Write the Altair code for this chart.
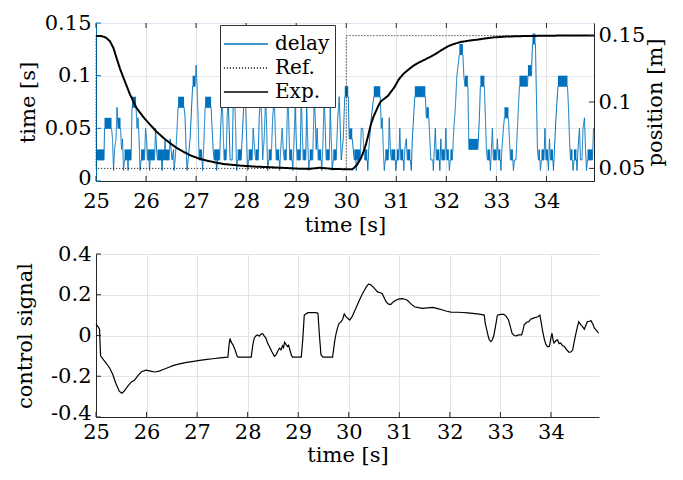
import altair as alt
import pandas as pd

FONT = "DejaVu Serif"
BLUE = "#0072BD"

# ---------------- data ----------------
x_ticks = [25, 26, 27, 28, 29, 30, 31, 32, 33, 34]
left_ticks = [0, 0.05, 0.1, 0.15]
right_ticks = [0.05, 0.1, 0.15]
ctrl_ticks = [-0.4, -0.2, 0, 0.2, 0.4]
series_names = ["delay", "Ref.", "Exp."]

# delay signal knots (time [s], delay [s])
delay_pts = [
    (25.00, 0.02), (25.16, 0.02), (25.17, 0.05), (25.31, 0.05), (25.33, 0.04), (25.35, 0.01),
    (25.37, 0.03), (25.40, 0.04), (25.42, 0.07), (25.44, 0.05), (25.49, 0.05), (25.51, 0.03),
    (25.53, 0.04), (25.55, 0.01), (25.57, 0.02), (25.63, 0.02), (25.64, 0.01), (25.65, 0.02),
    (25.70, 0.02), (25.72, 0.07), (25.80, 0.07), (25.82, 0.05), (25.84, 0.06), (25.86, 0.04),
    (25.88, 0.01), (25.90, 0.02), (25.97, 0.02), (25.99, 0.05), (26.01, 0.04), (26.03, 0.02),
    (26.06, 0.02), (26.07, 0.01), (26.08, 0.02), (26.17, 0.02), (26.19, 0.05), (26.21, 0.03),
    (26.23, 0.02), (26.31, 0.02), (26.32, 0.01), (26.33, 0.02), (26.37, 0.02), (26.38, 0.04),
    (26.39, 0.02), (26.46, 0.02), (26.48, 0.04), (26.50, 0.03), (26.52, 0.02), (26.55, 0.03),
    (26.56, 0.01), (26.58, 0.02), (26.61, 0.04), (26.64, 0.07), (26.76, 0.07), (26.78, 0.06),
    (26.80, 0.03), (26.82, 0.01), (26.84, 0.02), (26.88, 0.04), (26.93, 0.09), (26.98, 0.09),
    (27.00, 0.11), (27.02, 0.09), (27.04, 0.06), (27.06, 0.02), (27.12, 0.02), (27.13, 0.01),
    (27.15, 0.03), (27.18, 0.07), (27.30, 0.07), (27.32, 0.05), (27.34, 0.03), (27.36, 0.02),
    (27.40, 0.02), (27.41, 0.01), (27.43, 0.02), (27.47, 0.02), (27.49, 0.05), (27.52, 0.08),
    (27.54, 0.05), (27.56, 0.02), (27.60, 0.02), (27.62, 0.06), (27.64, 0.08), (27.66, 0.05),
    (27.68, 0.02), (27.72, 0.02), (27.74, 0.07), (27.77, 0.08), (27.79, 0.05), (27.81, 0.01),
    (27.83, 0.02), (27.90, 0.02), (27.93, 0.05), (27.96, 0.08), (27.99, 0.07), (28.01, 0.04),
    (28.03, 0.01), (28.05, 0.02), (28.12, 0.02), (28.14, 0.05), (28.17, 0.03), (28.19, 0.02),
    (28.24, 0.02), (28.26, 0.06), (28.29, 0.08), (28.31, 0.06), (28.33, 0.02), (28.36, 0.04),
    (28.39, 0.08), (28.41, 0.05), (28.43, 0.01), (28.45, 0.02), (28.50, 0.02), (28.53, 0.06),
    (28.56, 0.08), (28.58, 0.05), (28.60, 0.02), (28.66, 0.02), (28.67, 0.01), (28.69, 0.03),
    (28.72, 0.05), (28.74, 0.03), (28.76, 0.02), (28.80, 0.02), (28.83, 0.08), (28.85, 0.06),
    (28.87, 0.02), (28.92, 0.02), (28.93, 0.01), (28.95, 0.03), (28.98, 0.07), (29.00, 0.04),
    (29.02, 0.02), (29.08, 0.02), (29.10, 0.08), (29.12, 0.05), (29.14, 0.02), (29.19, 0.02),
    (29.21, 0.07), (29.23, 0.04), (29.25, 0.01), (29.27, 0.02), (29.33, 0.02), (29.36, 0.08),
    (29.38, 0.06), (29.40, 0.03), (29.42, 0.05), (29.44, 0.02), (29.50, 0.02), (29.51, 0.01),
    (29.53, 0.03), (29.56, 0.08), (29.58, 0.05), (29.60, 0.02), (29.66, 0.02), (29.68, 0.07),
    (29.70, 0.04), (29.72, 0.01), (29.74, 0.02), (29.80, 0.02), (29.83, 0.06), (29.86, 0.08),
    (29.88, 0.05), (29.90, 0.02), (29.94, 0.04), (29.97, 0.08), (30.04, 0.08), (30.06, 0.04),
    (30.12, 0.04), (30.14, 0.03), (30.16, 0.02), (30.19, 0.02), (30.20, 0.01), (30.22, 0.02),
    (30.28, 0.02), (30.30, 0.05), (30.33, 0.05), (30.35, 0.03), (30.37, 0.02), (30.42, 0.02),
    (30.43, 0.01), (30.45, 0.03), (30.50, 0.06), (30.55, 0.08), (30.68, 0.08), (30.70, 0.05),
    (30.72, 0.06), (30.74, 0.03), (30.76, 0.01), (30.78, 0.02), (30.84, 0.02), (30.86, 0.06),
    (30.88, 0.03), (30.90, 0.02), (30.98, 0.02), (30.99, 0.01), (31.01, 0.02), (31.05, 0.02),
    (31.07, 0.05), (31.09, 0.02), (31.14, 0.02), (31.15, 0.01), (31.17, 0.03), (31.20, 0.04),
    (31.22, 0.02), (31.28, 0.02), (31.30, 0.01), (31.32, 0.04), (31.37, 0.08), (31.58, 0.08),
    (31.60, 0.06), (31.65, 0.06), (31.67, 0.04), (31.69, 0.02), (31.73, 0.02), (31.74, 0.01),
    (31.76, 0.03), (31.78, 0.05), (31.80, 0.02), (31.86, 0.02), (31.87, 0.01), (31.89, 0.04),
    (31.91, 0.02), (31.97, 0.02), (31.99, 0.05), (32.01, 0.02), (32.05, 0.02), (32.06, 0.01),
    (32.08, 0.02), (32.12, 0.02), (32.15, 0.05), (32.18, 0.07), (32.21, 0.10), (32.26, 0.12),
    (32.33, 0.12), (32.35, 0.10), (32.37, 0.09), (32.43, 0.09), (32.45, 0.03), (32.63, 0.03),
    (32.66, 0.06), (32.68, 0.09), (32.76, 0.09), (32.78, 0.06), (32.80, 0.03), (32.82, 0.02),
    (32.87, 0.02), (32.88, 0.01), (32.90, 0.03), (32.92, 0.05), (32.94, 0.02), (33.00, 0.02),
    (33.02, 0.04), (33.04, 0.02), (33.08, 0.02), (33.09, 0.01), (33.11, 0.03), (33.14, 0.05),
    (33.16, 0.06), (33.24, 0.06), (33.26, 0.04), (33.28, 0.02), (33.33, 0.02), (33.34, 0.01),
    (33.36, 0.02), (33.39, 0.02), (33.43, 0.06), (33.46, 0.09), (33.62, 0.09), (33.63, 0.10),
    (33.70, 0.10), (33.72, 0.13), (33.78, 0.13), (33.80, 0.08), (33.82, 0.03), (33.84, 0.02),
    (33.87, 0.02), (33.88, 0.01), (33.90, 0.02), (33.95, 0.02), (33.97, 0.05), (33.99, 0.02),
    (34.03, 0.02), (34.04, 0.01), (34.06, 0.04), (34.08, 0.02), (34.13, 0.02), (34.14, 0.01),
    (34.16, 0.03), (34.19, 0.06), (34.23, 0.09), (34.42, 0.09), (34.44, 0.07), (34.46, 0.04),
    (34.48, 0.02), (34.52, 0.02), (34.53, 0.01), (34.55, 0.02), (34.60, 0.02), (34.61, 0.01),
    (34.63, 0.03), (34.66, 0.05), (34.68, 0.02), (34.71, 0.02), (34.73, 0.05), (34.76, 0.06),
    (34.78, 0.03), (34.80, 0.01), (34.82, 0.02), (34.92, 0.02), (34.94, 0.05), (34.95, 0.05),
]

# intervals where the delay toggles quickly between two adjacent levels (start, end, lower level)
delay_bands = [
    (25.00, 25.16, 0.02), (25.17, 25.31, 0.05), (25.44, 25.49, 0.05), (25.57, 25.70, 0.02),
    (25.72, 25.80, 0.07), (25.90, 25.97, 0.02), (26.03, 26.17, 0.02), (26.23, 26.46, 0.02),
    (26.64, 26.76, 0.07), (26.93, 26.98, 0.09), (27.06, 27.12, 0.02), (27.18, 27.30, 0.07),
    (27.36, 27.47, 0.02), (27.56, 27.60, 0.02), (27.83, 27.90, 0.02), (28.05, 28.12, 0.02),
    (28.19, 28.24, 0.02), (28.45, 28.50, 0.02), (28.60, 28.66, 0.02), (28.76, 28.80, 0.02),
    (28.87, 28.92, 0.02), (29.02, 29.08, 0.02), (29.14, 29.19, 0.02), (29.27, 29.33, 0.02),
    (29.44, 29.50, 0.02), (29.60, 29.66, 0.02), (29.74, 29.80, 0.02), (29.97, 30.04, 0.08),
    (30.06, 30.12, 0.04), (30.16, 30.28, 0.02), (30.37, 30.42, 0.02), (30.55, 30.68, 0.08),
    (30.78, 30.84, 0.02), (30.90, 30.98, 0.02), (31.01, 31.05, 0.02), (31.09, 31.14, 0.02),
    (31.22, 31.28, 0.02), (31.37, 31.58, 0.08), (31.60, 31.65, 0.06), (31.80, 31.86, 0.02),
    (31.91, 31.97, 0.02), (32.01, 32.05, 0.02), (32.08, 32.12, 0.02), (32.26, 32.33, 0.12),
    (32.37, 32.43, 0.09), (32.45, 32.63, 0.03), (32.68, 32.76, 0.09), (32.82, 32.87, 0.02),
    (32.94, 33.00, 0.02), (33.04, 33.08, 0.02), (33.16, 33.24, 0.06), (33.28, 33.33, 0.02),
    (33.46, 33.62, 0.09), (33.63, 33.70, 0.10), (33.72, 33.78, 0.13), (33.84, 33.87, 0.02),
    (33.90, 33.95, 0.02), (33.99, 34.03, 0.02), (34.08, 34.13, 0.02), (34.23, 34.42, 0.09),
    (34.48, 34.52, 0.02), (34.55, 34.60, 0.02), (34.82, 34.92, 0.02),
]

# reference position [m]
ref_t = [25.0, 25.0, 30.0, 30.0, 34.95]
ref_pos = [0.15, 0.05, 0.05, 0.15, 0.15]

# experimental position [m]
exp_pts = [
    (25.0, 0.1497), (25.1, 0.1497), (25.2, 0.1485), (25.28, 0.1457), (25.35, 0.1405),
    (25.41, 0.1332), (25.48, 0.125), (25.55, 0.1181), (25.68, 0.1056), (25.81, 0.0955),
    (25.95, 0.0885), (26.08, 0.083), (26.2, 0.078), (26.35, 0.0729), (26.48, 0.069),
    (26.61, 0.0654), (26.75, 0.0625), (26.88, 0.0599), (27.05, 0.0575), (27.21, 0.0559),
    (27.38, 0.0545), (27.55, 0.0533), (27.88, 0.0521), (28.2, 0.0513), (28.41, 0.051),
    (28.8, 0.0503), (29.08, 0.0497), (29.3, 0.0498), (29.48, 0.0505), (29.75, 0.0495),
    (30.0, 0.0494), (30.12, 0.0494), (30.16, 0.0505), (30.22, 0.053), (30.29, 0.0575),
    (30.34, 0.062), (30.39, 0.0677), (30.44, 0.075), (30.49, 0.0828), (30.54, 0.0885),
    (30.59, 0.0928), (30.64, 0.097), (30.69, 0.1004), (30.76, 0.1025), (30.83, 0.1045),
    (30.9, 0.108), (30.96, 0.111), (31.05, 0.117), (31.15, 0.1215), (31.23, 0.124),
    (31.33, 0.127), (31.43, 0.1293), (31.6, 0.1325), (31.76, 0.1356), (31.9, 0.139),
    (32.03, 0.1419), (32.15, 0.1437), (32.29, 0.1452), (32.45, 0.1462), (32.63, 0.147),
    (32.8, 0.148), (32.96, 0.1487), (33.2, 0.1493), (33.6, 0.1497), (34.2, 0.15), (34.95, 0.15),
]

# control signal
ctrl_pts = [
    (25.0, 0.055), (25.05, 0.04), (25.07, 0.03), (25.09, -0.1), (25.15, -0.12), (25.2, -0.135),
    (25.27, -0.16), (25.33, -0.19), (25.39, -0.233), (25.46, -0.273), (25.51, -0.283),
    (25.55, -0.275), (25.63, -0.249), (25.7, -0.228), (25.76, -0.22), (25.83, -0.197),
    (25.9, -0.178), (25.99, -0.17), (26.08, -0.175), (26.16, -0.179), (26.25, -0.175),
    (26.33, -0.167), (26.43, -0.157), (26.52, -0.148), (26.65, -0.139), (26.79, -0.132),
    (26.9, -0.128), (27.05, -0.122), (27.2, -0.117), (27.31, -0.114), (27.45, -0.11),
    (27.61, -0.106), (27.63, -0.05), (27.65, -0.015), (27.68, -0.035), (27.71, -0.046),
    (27.75, -0.07), (27.79, -0.1), (27.81, -0.106), (28.07, -0.106), (28.1, -0.05),
    (28.13, -0.013), (28.17, 0.0), (28.2, 0.003), (28.23, -0.003), (28.27, 0.008), (28.3, 0.008),
    (28.33, -0.003), (28.36, -0.013), (28.4, -0.04), (28.43, -0.054), (28.48, -0.08),
    (28.53, -0.102), (28.56, -0.095), (28.6, -0.075), (28.63, -0.062), (28.66, -0.07),
    (28.69, -0.05), (28.71, -0.06), (28.73, -0.033), (28.76, -0.045), (28.79, -0.054),
    (28.81, -0.048), (28.84, -0.075), (28.87, -0.1), (28.89, -0.106), (29.06, -0.106),
    (29.09, -0.02), (29.12, 0.1), (29.19, 0.112), (29.35, 0.112), (29.39, 0.109), (29.42, 0.0),
    (29.45, -0.094), (29.49, -0.106), (29.68, -0.106), (29.72, -0.03), (29.75, 0.011),
    (29.78, 0.04), (29.81, 0.06), (29.85, 0.068), (29.88, 0.08), (29.91, 0.106), (29.95, 0.09),
    (29.98, 0.085), (30.02, 0.076), (30.06, 0.09), (30.11, 0.117), (30.16, 0.145), (30.21, 0.173),
    (30.26, 0.2), (30.31, 0.222), (30.35, 0.24), (30.39, 0.252), (30.43, 0.25), (30.47, 0.241),
    (30.52, 0.228), (30.57, 0.214), (30.62, 0.21), (30.66, 0.206), (30.7, 0.185), (30.74, 0.165),
    (30.78, 0.155), (30.83, 0.152), (30.88, 0.165), (30.93, 0.173), (31.0, 0.18), (31.06, 0.181),
    (31.11, 0.178), (31.16, 0.173), (31.23, 0.155), (31.3, 0.141), (31.38, 0.137), (31.46, 0.133),
    (31.56, 0.136), (31.66, 0.138), (31.76, 0.132), (31.86, 0.125), (31.94, 0.119), (32.02, 0.115),
    (32.15, 0.114), (32.25, 0.113), (32.35, 0.111), (32.45, 0.109), (32.58, 0.105), (32.68, 0.1),
    (32.7, 0.06), (32.73, 0.028), (32.76, -0.005), (32.78, -0.021), (32.81, -0.03), (32.84, -0.021),
    (32.87, 0.0), (32.89, 0.028), (32.92, 0.07), (32.94, 0.1), (33.0, 0.104), (33.07, 0.104),
    (33.11, 0.095), (33.16, 0.076), (33.2, 0.04), (33.23, 0.011), (33.27, 0.0), (33.31, -0.002),
    (33.36, 0.003), (33.42, 0.003), (33.45, 0.03), (33.47, 0.052), (33.52, 0.065), (33.56, 0.068),
    (33.6, 0.08), (33.64, 0.084), (33.68, 0.088), (33.72, 0.09), (33.74, 0.092), (33.78, 0.1),
    (33.81, 0.06), (33.83, 0.028), (33.87, -0.02), (33.9, -0.045), (33.94, -0.055), (33.97, -0.053),
    (34.0, -0.01), (34.02, 0.011), (34.04, -0.02), (34.06, -0.037), (34.1, -0.025), (34.13, -0.021),
    (34.16, -0.04), (34.19, -0.037), (34.23, -0.05), (34.26, -0.053), (34.31, -0.07), (34.36, -0.083),
    (34.4, -0.08), (34.43, -0.07), (34.46, -0.03), (34.48, -0.005), (34.52, 0.04), (34.55, 0.068),
    (34.59, 0.052), (34.62, 0.045), (34.66, 0.031), (34.69, 0.05), (34.72, 0.068), (34.76, 0.07),
    (34.79, 0.073), (34.83, 0.055), (34.86, 0.036), (34.9, 0.025), (34.94, 0.011),
]

# ---------------- tables ----------------
delay_df = pd.DataFrame(delay_pts, columns=["t", "v"])
delay_df["series"] = "delay"
delay_df["idx"] = range(len(delay_df))

band_df = pd.DataFrame(delay_bands, columns=["t0", "t1", "lo"])
band_df["hi"] = band_df["lo"] + 0.01

ref_df = pd.DataFrame({"t": ref_t, "pos": ref_pos, "series": "Ref."})
exp_df = pd.DataFrame(exp_pts, columns=["t", "pos"])
exp_df["series"] = "Exp."
pos_df = pd.concat([ref_df, exp_df], ignore_index=True)
pos_df["idx"] = range(len(pos_df))

ctrl_df = pd.DataFrame(ctrl_pts, columns=["t", "u"])

xtick_df = pd.DataFrame({"t": x_ticks})
ltick_df = pd.DataFrame({"v": left_ticks})
rtick_df = pd.DataFrame({"pos": right_ticks})
ctick_df = pd.DataFrame({"u": ctrl_ticks})

# ---------------- scales / axes ----------------
W_TOP, H_TOP = 498, 158
W_BOT, H_BOT = 503, 163
TICK = 5
AX = "#262626"

x_dom = [25, 34.95]
color_scale = alt.Scale(domain=series_names, range=[BLUE, "black", "black"])
dash_scale = alt.Scale(domain=series_names, range=[[1, 0], [1, 2], [1, 0]])
legend = alt.Legend(
    title=None, orient="none", legendX=124, legendY=2,
    symbolType="M-1.7,0H1.7", symbolSize=676, symbolStrokeWidth=1.5,
    symbolOffset=7, labelOffset=15,
    labelFont=FONT, labelFontSize=20, labelColor="black",
    fillColor="white", strokeColor="#333333", padding=5, rowPadding=0,
)

lab2 = "datum.value < 0 ? '-' + format(-datum.value, '.2~f') : format(datum.value, '.2~f')"

x_axis_top = alt.Axis(
    values=x_ticks, labelExpr=lab2, title="time [s]", grid=True, gridColor="#e3e3e3",
    domainColor=AX, ticks=False, tickSize=0, labelPadding=9, titlePadding=3, labelFlush=False,
)
y_axis_left = alt.Axis(
    values=left_ticks, labelExpr=lab2, title="time [s]", grid=True,
    gridColor="#dce7f2", domainColor=BLUE, ticks=False, tickSize=0,
    labelPadding=5, titlePadding=6, labelFlush=False,
    labelOffset={"condition": {"test": "datum.value == 0", "value": -3}, "value": 0},
)
y_axis_right = alt.Axis(
    orient="right", values=right_ticks, labelExpr=lab2, title="position [m]",
    titleAngle=270, grid=False, domainColor=AX, ticks=False, tickSize=0,
    labelPadding=4, titlePadding=21, labelFlush=False,
)

xs_top = alt.Scale(domain=x_dom, nice=False, zero=False)
ys_left = alt.Scale(domain=[0, 0.15], nice=False)
ys_right = alt.Scale(domain=[0.0405, 0.1595], nice=False, zero=False)

bands = alt.Chart(band_df).mark_rect(color=BLUE, strokeWidth=0).encode(
    x=alt.X("t0:Q", scale=xs_top, axis=x_axis_top),
    x2="t1:Q",
    y=alt.Y("lo:Q", scale=ys_left, axis=y_axis_left),
    y2="hi:Q",
)
delay_line = alt.Chart(delay_df).mark_line(strokeWidth=1).encode(
    x=alt.X("t:Q", scale=xs_top, axis=x_axis_top),
    y=alt.Y("v:Q", scale=ys_left, axis=y_axis_left),
    color=alt.Color("series:N", scale=color_scale, legend=legend),
    strokeDash=alt.StrokeDash("series:N", scale=dash_scale, legend=legend),
    order="idx:Q",
)
# inward tick marks (MATLAB style)
xt_bottom = alt.Chart(xtick_df).mark_rule(color=AX).encode(
    x=alt.X("t:Q", scale=xs_top, axis=x_axis_top), y=alt.value(H_TOP), y2=alt.value(H_TOP - TICK))
xt_top = alt.Chart(xtick_df).mark_rule(color=AX).encode(
    x=alt.X("t:Q", scale=xs_top, axis=x_axis_top), y=alt.value(0), y2=alt.value(TICK))
yt_left = alt.Chart(ltick_df).mark_rule(color=BLUE).encode(
    y=alt.Y("v:Q", scale=ys_left, axis=y_axis_left), x=alt.value(0), x2=alt.value(TICK))
left = alt.layer(bands, delay_line, xt_bottom, xt_top, yt_left)

pos_lines = alt.Chart(pos_df).mark_line().encode(
    x=alt.X("t:Q", scale=xs_top, axis=x_axis_top),
    y=alt.Y("pos:Q", scale=ys_right, axis=y_axis_right),
    color=alt.Color("series:N", scale=color_scale, legend=legend),
    strokeDash=alt.StrokeDash("series:N", scale=dash_scale, legend=legend),
    strokeWidth=alt.StrokeWidth("series:N", scale=alt.Scale(domain=["Ref.", "Exp."], range=[1, 2]), legend=None),
    order="idx:Q",
)
yt_right = alt.Chart(rtick_df).mark_rule(color=AX).encode(
    y=alt.Y("pos:Q", scale=ys_right, axis=y_axis_right), x=alt.value(W_TOP), x2=alt.value(W_TOP - TICK))
right = alt.layer(pos_lines, yt_right)

top = alt.layer(left, right).resolve_scale(y="independent").properties(
    width=W_TOP, height=H_TOP, view=alt.ViewBackground(stroke="#555555", strokeWidth=1)
)

x_axis_bot = alt.Axis(
    values=x_ticks, labelExpr=lab2, title="time [s]", grid=True, gridColor="#e3e3e3",
    domainColor=AX, ticks=False, tickSize=0, labelPadding=4, titlePadding=2, labelFlush=False,
)
y_axis_bot = alt.Axis(
    values=ctrl_ticks, labelExpr=lab2,
    title="control signal", grid=True, gridColor="#e3e3e3", domainColor=AX,
    ticks=False, tickSize=0, labelPadding=5, titlePadding=15, labelFlush=False,
    labelOffset={"condition": {"test": "datum.value < -0.3", "value": -4}, "value": 0},
)
xs_bot = alt.Scale(domain=x_dom, nice=False, zero=False)
ys_bot = alt.Scale(domain=[-0.4, 0.4], nice=False)
ctrl_line = alt.Chart(ctrl_df).mark_line(color="black", strokeWidth=1.2).encode(
    x=alt.X("t:Q", scale=xs_bot, axis=x_axis_bot),
    y=alt.Y("u:Q", scale=ys_bot, axis=y_axis_bot),
)
xt_bot2 = alt.Chart(xtick_df).mark_rule(color=AX).encode(
    x=alt.X("t:Q", scale=xs_bot, axis=x_axis_bot), y=alt.value(H_BOT), y2=alt.value(H_BOT - TICK))
yt_bot2 = alt.Chart(ctick_df).mark_rule(color=AX).encode(
    y=alt.Y("u:Q", scale=ys_bot, axis=y_axis_bot), x=alt.value(0), x2=alt.value(TICK))
bottom = alt.layer(ctrl_line, xt_bot2, yt_bot2).properties(
    width=W_BOT, height=H_BOT, view=alt.ViewBackground(stroke="transparent")
)

chart = alt.vconcat(top, bottom, spacing=6).resolve_scale(
    x="independent", color="independent", strokeDash="independent"
).properties(
    padding={"left": 6, "top": 3, "right": 5, "bottom": 5}
).configure_axis(
    labelFont=FONT, titleFont=FONT, labelFontSize=21, titleFontSize=21,
    titleFontWeight="normal", labelColor="black", titleColor="black",
).configure_view(stroke="transparent")

chart.save("out.html", embed_options={"renderer": "svg", "actions": False})
